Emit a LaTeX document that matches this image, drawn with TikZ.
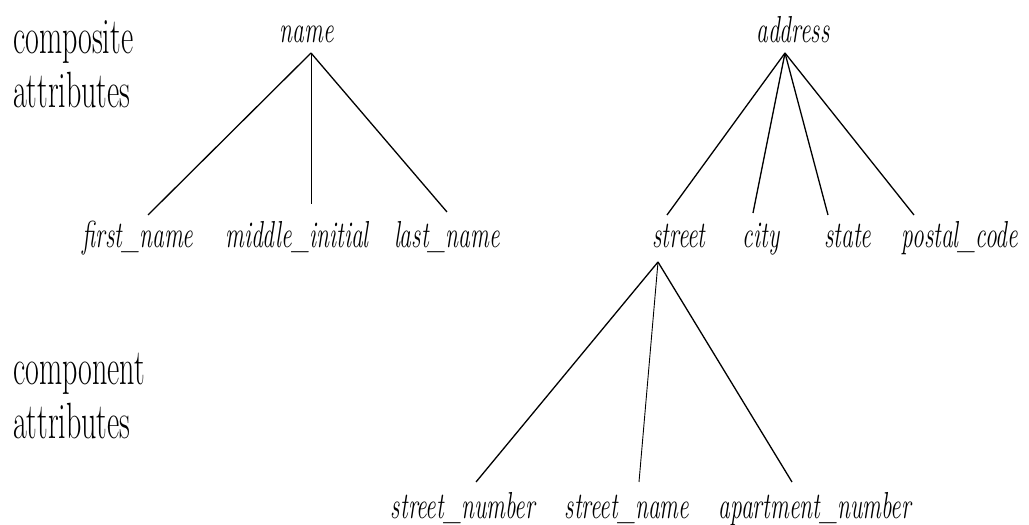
\documentclass[tikz,border=0pt]{standalone}
\usetikzlibrary{positioning}

\begin{document}
\begin{tikzpicture}[
    x=1pt, y=1pt,
    kind/.style={font=\fontsize{30}{32}\selectfont, inner sep=0pt, yscale=1.7, anchor=base west, align=left},
    attr/.style={font=\fontsize{23.5}{28}\selectfont\itshape, inner sep=0pt, yscale=1.6, anchor=base},
    branch/.style={line width=1.3pt},
    stem/.style={line width=0.9pt}
]
    \useasboundingbox (0,0) rectangle (1029,525);

    % Side labels
    \node[kind] (composite) at (13,417) {composite\\attributes};
    \node[kind] (component) at (13,86) {component\\attributes};

    % Composite attributes
    \node[attr] (name) at (307,482) {name};
    \node[attr] (address) at (793,482) {address};

    % Component attributes
    \node[attr] (first) at (138,277) {first\_name};
    \node[attr] (middle) at (297,277) {middle\_initial};
    \node[attr] (last) at (447,277) {last\_name};
    \node[attr] (street) at (679,277) {street};
    \node[attr] (city) at (761,277) {city};
    \node[attr] (state) at (848,277) {state};
    \node[attr] (postal) at (960,277) {postal\_code};
    \node[attr] (number) at (463,6) {street\_number};
    \node[attr] (sname) at (627,6) {street\_name};
    \node[attr] (apartment) at (815,6) {apartment\_number};

    % Tips
    \coordinate (nametip) at ([xshift=4pt,yshift=-10pt]name.base);
    \coordinate (addresstip) at ([xshift=-8pt,yshift=-10pt]address.base);
    \coordinate (streettip) at ([xshift=-21pt,yshift=-14pt]street.base);

    % Branches
    \draw[branch] (nametip) -- ([xshift=10pt,yshift=33pt]first.base);
    \draw[stem] (nametip) -- ([xshift=14pt,yshift=44pt]middle.base);
    \draw[branch] (nametip) -- ([yshift=36pt]last.base);

    \draw[branch] (addresstip) -- ([xshift=-12pt,yshift=33pt]street.base);
    \draw[branch] (addresstip) -- ([xshift=-8pt,yshift=35pt]city.base);
    \draw[branch] (addresstip) -- ([xshift=-20pt,yshift=33pt]state.base);
    \draw[branch] (addresstip) -- ([xshift=-46pt,yshift=33pt]postal.base);

    \draw[branch] (streettip) -- ([xshift=13pt,yshift=37pt]number.base);
    \draw[stem] (streettip) -- ([xshift=12pt,yshift=37pt]sname.base);
    \draw[branch] (streettip) -- ([xshift=-23pt,yshift=37pt]apartment.base);
\end{tikzpicture}
\end{document}
